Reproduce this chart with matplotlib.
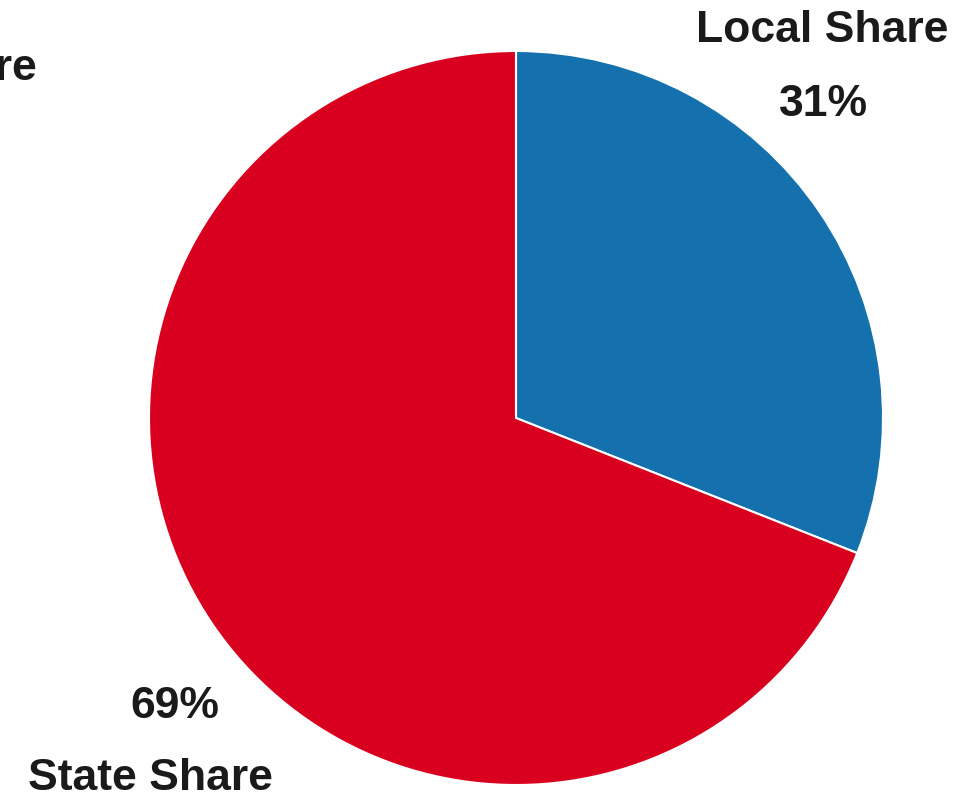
import matplotlib.pyplot as plt

# data
labels = ['Local Share', 'State Share']
shares = [31, 69]
colors = ['#1471ad', '#d9001f']

plt.rcParams['font.family'] = ['Liberation Sans', 'DejaVu Sans']

fig = plt.figure(figsize=(9.77, 8.01), dpi=100)
ax = fig.add_axes([0, 0, 1, 1])

# pie in pixel coordinates
ax.pie(shares, colors=colors, startangle=90, counterclock=False,
       radius=367, center=(516, 383),
       wedgeprops=dict(edgecolor='white', linewidth=1.5))

ax.set_xlim(0, 977)
ax.set_ylim(0, 801)
ax.set_aspect('equal')
ax.axis('off')

txt = dict(fontsize=32, fontweight='bold', color='#1a1a1a', ha='center', va='center')
ax.text(822, 771, labels[0], **txt)
ax.text(823, 696, f'{shares[0]}%', **txt)
ax.text(175, 94, f'{shares[1]}%', **txt)
ax.text(150, 22, labels[1], **txt)
# label of a neighbouring chart, cut off at the left edge
ax.text(37, 733, 'Share', fontsize=32, fontweight='bold', color='#1a1a1a',
        ha='right', va='center')

fig.savefig('out.png', dpi=100)
